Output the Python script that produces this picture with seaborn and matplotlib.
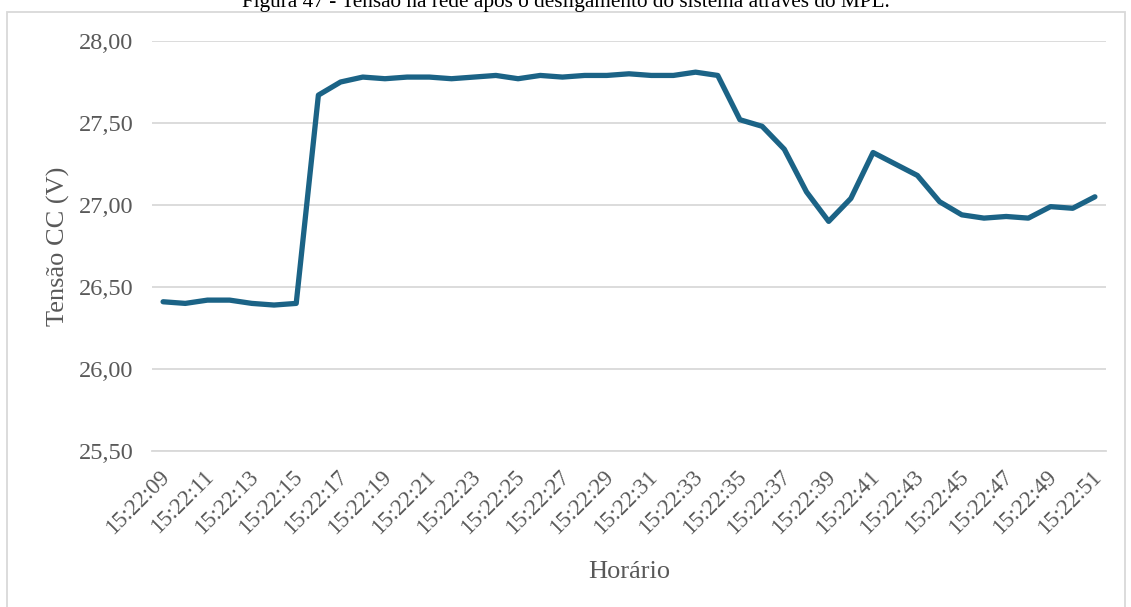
import numpy as np
import pandas as pd
import seaborn as sns
import matplotlib.pyplot as plt
from matplotlib.patches import Rectangle
from matplotlib.ticker import FuncFormatter
from matplotlib.transforms import ScaledTranslation

# horarios (um ponto por segundo)
horarios = [f"15:22:{s:02d}" for s in range(9, 52)]
tensao = [26.41, 26.40, 26.42, 26.42, 26.40, 26.39, 26.40, 27.67, 27.75, 27.78,
          27.77, 27.78, 27.78, 27.77, 27.78, 27.79, 27.77, 27.79, 27.78, 27.79,
          27.79, 27.80, 27.79, 27.79, 27.81, 27.79, 27.52, 27.48, 27.34, 27.08,
          26.90, 27.04, 27.32, 27.25, 27.18, 27.02, 26.94, 26.92, 26.93, 26.92,
          26.99, 26.98, 27.05]
yticks = [25.5, 26.0, 26.5, 27.0, 27.5, 28.0]

titulo = "Figura 47 - Tensão na rede após o desligamento do sistema através do MPL."

sns.set_theme(style="white")
plt.rcParams['font.family'] = ['Liberation Serif', 'DejaVu Serif']

texto = '#595959'
grade = '#d9d9d9'
cor_linha = '#1b6386'

df = pd.DataFrame({'Horario': horarios, 'Tensao': tensao})
df['pos'] = np.arange(len(df))

fig = plt.figure(figsize=(11.31, 6.07), dpi=100)
ax = fig.add_axes([152 / 1131, 1 - 451 / 607, (1106 - 152) / 1131, (451 - 41) / 607])

sns.lineplot(data=df, x='pos', y='Tensao', ax=ax, color=cor_linha, linewidth=3.8,
             solid_capstyle='round', solid_joinstyle='round', zorder=3)

ax.set_xlim(-0.5, len(horarios) - 0.5)
ax.set_ylim(25.5, 28.0)
ax.set_yticks(yticks)
ax.yaxis.set_major_formatter(FuncFormatter(lambda v, p: f"{v:.2f}".replace('.', ',')))
ax.grid(axis='y', color=grade, linewidth=1.3)
ax.grid(axis='x', visible=False)
for lado in ['top', 'right', 'left']:
    ax.spines[lado].set_visible(False)
ax.spines['bottom'].set_color(grade)
ax.spines['bottom'].set_linewidth(1.3)

pos_ticks = df['pos'][::2]
ax.set_xticks(pos_ticks)
ax.set_xticklabels(df['Horario'][::2], rotation=45, ha='right', rotation_mode='anchor')
ax.tick_params(axis='x', length=0, pad=11, labelsize=16.5, labelcolor=texto)
ax.tick_params(axis='y', length=0, pad=13.5, labelsize=17.5, labelcolor=texto)

# pequeno deslocamento dos rotulos inclinados para a esquerda
desloc = ScaledTranslation(-4 / 100, 0, fig.dpi_scale_trans)
for lbl in ax.get_xticklabels():
    lbl.set_transform(lbl.get_transform() + desloc)

ax.set_xlabel('Horário', fontsize=19, color=texto, labelpad=16)
ax.set_ylabel('Tensão CC (V)', fontsize=19, color=texto, labelpad=6)

# moldura do grafico
fig.patches.append(Rectangle((7 / 1131, -0.05), 1118 / 1131, 1.05 - 12 / 607,
                             transform=fig.transFigure, fill=False,
                             edgecolor='#d9d9d9', linewidth=1.3))
fig.text(0.5, 1 - 7 / 607, titulo, ha='center', va='baseline', fontsize=15.3, color='black')

fig.savefig('out.png', dpi=100)
